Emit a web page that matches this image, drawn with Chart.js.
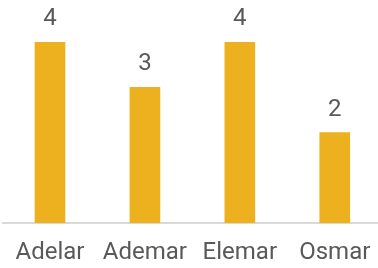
<!DOCTYPE html>
<html>
<head>
<meta charset="utf-8">
<script src="https://cdn.jsdelivr.net/npm/chart.js@4"></script>
<style>
    html, body { margin: 0; padding: 0; background: #fff; overflow: hidden; }
    #wrap { position: relative; width: 386px; height: 268px; }
</style>
</head>
<body>
<div id="wrap"><canvas id="chart"></canvas></div>
<script>
    // Chart data
    const categories = ['Adelar', 'Ademar', 'Elemar', 'Osmar'];
    const values = [4, 3, 4, 2];

    const textColor = '#595959';
    const barColor = '#EDB11F';

    // Draws the value above each bar, positioned from the bar elements
    const valueLabels = {
        id: 'valueLabels',
        afterDatasetsDraw(chart) {
            const ctx = chart.ctx;
            const meta = chart.getDatasetMeta(0);
            ctx.save();
            ctx.font = '24px Roboto';
            ctx.fillStyle = textColor;
            ctx.textAlign = 'center';
            ctx.textBaseline = 'alphabetic';
            meta.data.forEach((bar, i) => {
                ctx.fillText(String(values[i]), bar.x, bar.y - 17);
            });
            ctx.restore();
        }
    };

    new Chart(document.getElementById('chart'), {
        type: 'bar',
        data: {
            labels: categories,
            datasets: [{
                data: values,
                backgroundColor: barColor,
                barThickness: 30
            }]
        },
        options: {
            responsive: true,
            maintainAspectRatio: false,
            animation: false,
            layout: { padding: { top: 42, left: 0, right: 0, bottom: 0 } },
            plugins: {
                legend: { display: false },
                tooltip: { enabled: false }
            },
            scales: {
                x: {
                    grid: { display: false, drawTicks: false },
                    border: { display: true, color: '#d9d9d9', width: 2 },
                    ticks: {
                        color: textColor,
                        font: { family: 'Roboto', size: 24 },
                        padding: 16,
                        maxRotation: 0
                    },
                    afterFit(scale) {
                        scale.height = 45;
                    }
                },
                y: {
                    display: false,
                    min: 0,
                    max: 4
                }
            }
        },
        plugins: [valueLabels]
    });
</script>
</body>
</html>
